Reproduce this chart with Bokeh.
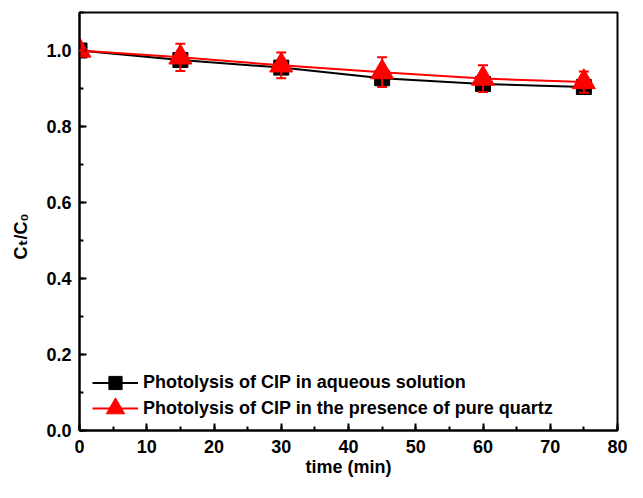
import numpy as np
from bokeh.plotting import figure
from bokeh.models import (ColumnDataSource, Whisker, TeeHead, SingleIntervalTicker,
                          Legend, LegendItem, Range1d, NumeralTickFormatter)
from bokeh.embed import file_html
from bokeh.resources import INLINE

# ---- data ----
time_min = [0, 15, 30, 45, 60, 75]
aqueous = [1.000, 0.975, 0.955, 0.927, 0.912, 0.904]
quartz = [1.000, 0.982, 0.961, 0.943, 0.926, 0.917]
quartz_err = [0.0, 0.036, 0.034, 0.039, 0.035, 0.028]
series_labels = ["Photolysis of CIP in aqueous solution",
                 "Photolysis of CIP in the presence of pure quartz"]
x_label = "time (min)"
y_label = "C\u209c/C\u2080"

FONT = "Liberation Sans, DejaVu Sans, sans-serif"

src_a = ColumnDataSource(dict(x=time_min, y=aqueous))
src_q = ColumnDataSource(dict(
    x=time_min, y=quartz,
    lo=[v - e for v, e in zip(quartz, quartz_err)],
    hi=[v + e for v, e in zip(quartz, quartz_err)],
))

p = figure(width=627, height=482, x_range=Range1d(0, 80), y_range=Range1d(0, 1.1),
           output_backend="svg", toolbar_location=None,
           min_border_left=79, min_border_right=10, min_border_top=12, min_border_bottom=52)
p.grid.visible = False
p.outline_line_color = "black"
p.outline_line_width = 2
p.background_fill_color = "white"
p.border_fill_color = "white"

p.xaxis.ticker = SingleIntervalTicker(interval=10, num_minor_ticks=2)
p.yaxis.ticker = SingleIntervalTicker(interval=0.2, num_minor_ticks=2)
p.yaxis.formatter = NumeralTickFormatter(format="0.0")
for ax in (p.xaxis, p.yaxis):
    ax.axis_line_width = 2
    ax.axis_line_color = "black"
    ax.major_tick_in = 7
    ax.major_tick_out = 0
    ax.minor_tick_in = 4
    ax.minor_tick_out = 0
    ax.major_tick_line_width = 2
    ax.minor_tick_line_width = 2
    ax.major_label_text_font = FONT
    ax.major_label_text_font_size = "18px"
    ax.major_label_text_font_style = "bold"
    ax.major_label_text_color = "black"
    ax.axis_label_text_font = FONT
    ax.axis_label_text_font_size = "18px"
    ax.axis_label_text_font_style = "bold"
    ax.axis_label_text_color = "black"
p.xaxis.major_label_standoff = 9
p.yaxis.major_label_standoff = 8
p.xaxis.axis_label = x_label
p.xaxis.axis_label_standoff = 1
# trailing no-break spaces push the visible text a little below the axis centre, as in the reference
p.yaxis.axis_label = y_label + "\u00a0" * 6
p.yaxis.axis_label_standoff = 12

# series
l_a = p.line("x", "y", source=src_a, line_color="black", line_width=2)
s_a = p.scatter("x", "y", source=src_a, marker="square", size=15, color="black")
l_q = p.line("x", "y", source=src_q, line_color="red", line_width=2)
w = Whisker(source=src_q, base="x", upper="hi", lower="lo", dimension="height",
            line_color="red", line_width=2, level="overlay",
            upper_head=TeeHead(size=10, line_color="red", line_width=2),
            lower_head=TeeHead(size=10, line_color="red", line_width=2))
p.add_layout(w)
s_q = p.scatter("x", "y", source=src_q, marker="triangle", size=23, color="red")

def make_legend(item, loc, gh):
    return Legend(items=[item], location=loc, padding=0, margin=0, spacing=0,
                  glyph_width=46, glyph_height=gh, label_height=gh, label_standoff=5,
                  background_fill_alpha=0, border_line_alpha=0,
                  label_text_font=FONT, label_text_font_size="18px",
                  label_text_font_style="bold", label_text_color="black")

p.add_layout(make_legend(LegendItem(label=series_labels[0], renderers=[l_a, s_a]),
                         (13, 430 - 383 - 16), 33))
p.add_layout(make_legend(LegendItem(label=series_labels[1], renderers=[l_q, s_q]),
                         (13, 430 - 408 - 23), 46))

open("out.html", "w").write(file_html(p, INLINE))
